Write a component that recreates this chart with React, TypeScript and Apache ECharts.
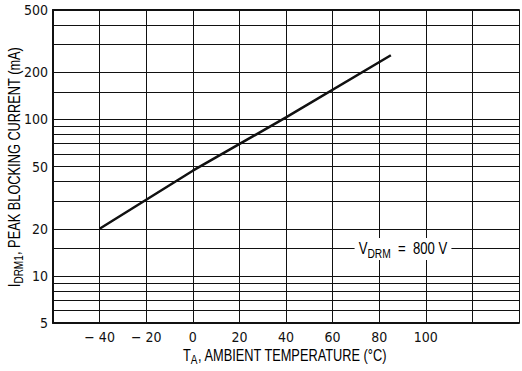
import React, { useEffect, useRef } from "react";
import * as echarts from "echarts";

const temps = [-40, 0, 40, 85];
const current = [20, 47, 103, 257];
const xLabelVals = [-40, -20, 0, 20, 40, 60, 80, 100];
const yGrid = [5, 6, 7, 8, 9, 10, 15, 20, 30, 40, 50, 60, 70, 80, 90, 100, 150, 200, 300, 400, 500];
const yLabelVals = [5, 10, 20, 50, 100, 200, 500];

const FONT = '"DejaVu Sans Condensed", "Liberation Sans", sans-serif';
const TFONT = '"Liberation Sans", Arial, sans-serif';
const INK = "#111";

export default function App() {
  const ref = useRef<HTMLDivElement>(null);
  useEffect(() => {
    if (!ref.current) return;
    const chart = echarts.init(ref.current, null, { renderer: "svg" });
    const richBase = {
      n: { fontFamily: TFONT, fontSize: 16, color: INK, lineHeight: 22, verticalAlign: "middle" },
      s: { fontFamily: TFONT, fontSize: 12.5, color: INK, lineHeight: 13, verticalAlign: "bottom" },
    };
    chart.setOption({
      animation: false,
      backgroundColor: "#fff",
      textStyle: { fontFamily: FONT },
      grid: { left: 53, top: 10, right: -2, bottom: 48 },
      xAxis: [
        {
          type: "value",
          min: -60,
          max: 140,
          interval: 20,
          position: "bottom",
          axisLine: { show: true, onZero: false, lineStyle: { color: INK, width: 2 } },
          axisTick: { show: false },
          splitLine: { show: true, lineStyle: { color: INK, width: 1 } },
          axisLabel: {
            margin: 7,
            fontFamily: FONT,
            fontSize: 14,
            color: INK,
            formatter: (v: number) =>
              xLabelVals.indexOf(v) < 0 ? "" : v < 0 ? "\u2212 " + Math.abs(v) : String(v),
          },
        },
        {
          type: "value",
          min: -60,
          max: 140,
          interval: 20,
          position: "top",
          axisLine: { show: true, onZero: false, lineStyle: { color: INK, width: 2 } },
          axisTick: { show: false },
          axisLabel: { show: false },
          splitLine: { show: false },
        },
      ],
      yAxis: {
        type: "log",
        logBase: 10,
        min: 5,
        max: 500,
        axisLine: { show: true, onZero: false, lineStyle: { color: INK, width: 2 } },
        axisTick: { show: false, customValues: yGrid },
        splitLine: { show: true, lineStyle: { color: INK, width: 1 } },
        axisLabel: {
          customValues: yLabelVals,
          margin: 5,
          fontFamily: FONT,
          fontSize: 14,
          color: INK,
        },
      },
      series: [
        {
          type: "line",
          data: temps.map((t, i) => [t, current[i]]),
          showSymbol: false,
          symbol: "none",
          lineStyle: { color: INK, width: 2.5 },
          z: 5,
        },
      ],
      graphic: [
        {
          type: "text",
          x: 285,
          y: 355,
          scaleX: 0.8,
          style: {
            text: "{n|T}{s|A}{n|, AMBIENT TEMPERATURE (°C)}",
            rich: richBase,
            align: "center",
            verticalAlign: "middle",
          },
        },
        {
          type: "text",
          x: 14,
          y: 167,
          rotation: Math.PI / 2,
          scaleX: 0.8,
          style: {
            text: "{n|I}{s|DRM1}{n|, PEAK BLOCKING CURRENT (mA)}",
            rich: richBase,
            align: "center",
            verticalAlign: "middle",
          },
        },
        {
          type: "text",
          x: 403,
          y: 249,
          z: 10,
          scaleX: 0.82,
          style: {
            text: "{n|V}{s|DRM}{n|  =  800 V}",
            rich: richBase,
            align: "center",
            verticalAlign: "middle",
            backgroundColor: "#fff",
            padding: [0, 5, 0, 5],
          },
        },
      ],
    });
    return () => chart.dispose();
  }, []);
  return (
    <div
      ref={ref}
      style={{ position: "fixed", left: 0, top: 0, width: 522, height: 371, background: "#fff" }}
    />
  );
}
